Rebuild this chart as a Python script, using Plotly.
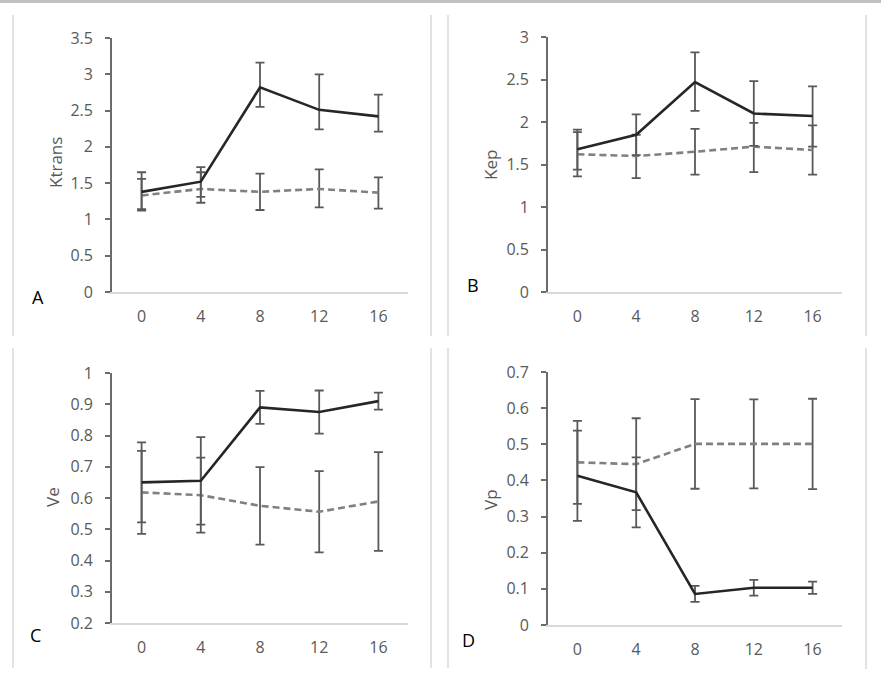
import plotly.graph_objects as go

W, H = 881, 680

weeks = ["0", "4", "8", "12", "16"]

# Panel A - Ktrans
ktrans_solid = [1.38, 1.52, 2.82, 2.51, 2.42]
ktrans_solid_plus = [0.27, 0.20, 0.34, 0.49, 0.30]
ktrans_solid_minus = [0.26, 0.21, 0.27, 0.27, 0.21]
ktrans_dash = [1.33, 1.42, 1.38, 1.42, 1.37]
ktrans_dash_plus = [0.23, 0.23, 0.25, 0.27, 0.21]
ktrans_dash_minus = [0.19, 0.19, 0.25, 0.255, 0.22]

# Panel B - Kep
kep_solid = [1.68, 1.85, 2.47, 2.10, 2.07]
kep_solid_plus = [0.23, 0.24, 0.35, 0.38, 0.35]
kep_solid_minus = [0.24, 0.24, 0.34, 0.38, 0.36]
kep_dash = [1.62, 1.60, 1.65, 1.71, 1.67]
kep_dash_plus = [0.26, 0.25, 0.27, 0.28, 0.29]
kep_dash_minus = [0.26, 0.26, 0.27, 0.30, 0.29]

# Panel C - Ve
ve_solid = [0.65, 0.655, 0.89, 0.875, 0.91]
ve_solid_err = [0.128, 0.14, 0.053, 0.069, 0.027]
ve_dash = [0.618, 0.609, 0.575, 0.556, 0.589]
ve_dash_err = [0.133, 0.12, 0.124, 0.13, 0.158]

# Panel D - Vp
vp_solid = [0.413, 0.367, 0.086, 0.103, 0.103]
vp_solid_err = [0.125, 0.097, 0.022, 0.022, 0.017]
vp_dash = [0.45, 0.445, 0.501, 0.501, 0.501]
vp_dash_err = [0.115, 0.127, 0.124, 0.123, 0.125]

y_titles = ["Ktrans", "Kep", "Ve", "Vp"]
panel_letters = ["A", "B", "C", "D"]
y_ranges = [[0, 3.5], [0, 3], [0.2, 1], [0, 0.7]]
y_dticks = [0.5, 0.5, 0.1, 0.1]

SOLID = "#262626"
DASH = "#808080"
ERR = "#595959"
TICK = "#595959"


def px_x(x):
    return x / W


def px_y(y):
    return 1 - y / H


# plot-area boxes in pixels: (x0, x1, ytop, ybottom)
boxes = [
    (112, 408, 38, 292),
    (548, 842, 37, 292),
    (112, 408, 373, 623),
    (548, 842, 372, 625),
]

fig = go.Figure()


def err(plus, minus=None):
    d = dict(type="data", array=plus, color=ERR, thickness=1.8, width=4.5, visible=True)
    if minus is not None:
        d["symmetric"] = False
        d["arrayminus"] = minus
    return d


series = [
    (ktrans_solid, err(ktrans_solid_plus, ktrans_solid_minus), ktrans_dash, err(ktrans_dash_plus, ktrans_dash_minus)),
    (kep_solid, err(kep_solid_plus, kep_solid_minus), kep_dash, err(kep_dash_plus, kep_dash_minus)),
    (ve_solid, err(ve_solid_err), ve_dash, err(ve_dash_err)),
    (vp_solid, err(vp_solid_err), vp_dash, err(vp_dash_err)),
]

for i, (s, se, d, de) in enumerate(series):
    ax = "" if i == 0 else str(i + 1)
    fig.add_trace(go.Scatter(x=weeks, y=d, mode="lines", error_y=de,
                             line=dict(color=DASH, width=2.6, dash="7px,4px"),
                             xaxis="x" + ax, yaxis="y" + ax, showlegend=False))
    fig.add_trace(go.Scatter(x=weeks, y=s, mode="lines", error_y=se,
                             line=dict(color=SOLID, width=2.6),
                             xaxis="x" + ax, yaxis="y" + ax, showlegend=False))

layout = dict(
    template="none",
    width=W, height=H, autosize=False,
    margin=dict(l=0, r=0, t=0, b=0, pad=0, autoexpand=False),
    paper_bgcolor="white", plot_bgcolor="white",
    font=dict(family="Open Sans", size=16, color=TICK),
    showlegend=False,
)

for i, (x0, x1, yt, yb) in enumerate(boxes):
    ax = "" if i == 0 else str(i + 1)
    layout["xaxis" + ax] = dict(
        domain=[px_x(x0), px_x(x1)], anchor="y" + ax, type="category",
        range=[-0.5, 4.5], showgrid=False, zeroline=False, automargin=False,
        showline=True, linecolor="#d9d9d9", linewidth=1.5,
        ticks="", ticklabelstandoff=9, tickfont=dict(size=16, color=TICK),
        fixedrange=True,
    )
    layout["yaxis" + ax] = dict(
        domain=[px_y(yb), px_y(yt)], anchor="x" + ax,
        range=y_ranges[i], dtick=y_dticks[i], showgrid=False, zeroline=False, automargin=False,
        showline=True, linecolor="#6b6b6b", linewidth=1.8,
        ticks="outside", ticklen=5, tickwidth=1.5, tickcolor="#6b6b6b",
        ticklabelstandoff=9, tickfont=dict(size=16, color=TICK),
        fixedrange=True,
    )

fig.update_layout(**layout)

# axis titles and panel letters
title_pos = [(55, 163), (490, 165), (53, 497), (490, 500)]
letter_pos = [(38, 297), (473, 285), (35, 635), (468, 640)]
for i in range(4):
    fig.add_annotation(x=px_x(title_pos[i][0]), y=px_y(title_pos[i][1]), xref="paper", yref="paper",
                       text=y_titles[i], showarrow=False, textangle=-90,
                       font=dict(family="Open Sans", size=17, color=TICK),
                       xanchor="center", yanchor="middle")
    fig.add_annotation(x=px_x(letter_pos[i][0]), y=px_y(letter_pos[i][1]), xref="paper", yref="paper",
                       text=panel_letters[i], showarrow=False,
                       font=dict(family="Open Sans", size=18, color="#000000"),
                       xanchor="center", yanchor="middle")

# panel frame lines
frame = "#d9d9d9"
for (xa, yt, yb) in [(13, 15, 336), (431, 15, 336), (448, 15, 336), (866, 15, 336),
                     (13, 348, 668), (431, 348, 668), (448, 348, 668), (866, 348, 669)]:
    fig.add_shape(type="line", xref="paper", yref="paper",
                  x0=px_x(xa), x1=px_x(xa), y0=px_y(yt), y1=px_y(yb),
                  line=dict(color=frame, width=1.5))
fig.add_shape(type="line", xref="paper", yref="paper", x0=0, x1=1, y0=px_y(1.5), y1=px_y(1.5),
              line=dict(color="#c0c0c0", width=3))

fig.write_html(
    "out.html",
    config={"displayModeBar": False},
    post_script=(
        "document.documentElement.style.margin='0';document.body.style.margin='0';"
        "document.body.style.padding='0';"
        "var d=document.getElementById('{plot_id}');"
        "d.style.position='fixed';d.style.top='0px';d.style.left='0px';"
        "document.documentElement.style.overflow='hidden';document.body.style.overflow='hidden';"
    ),
)
